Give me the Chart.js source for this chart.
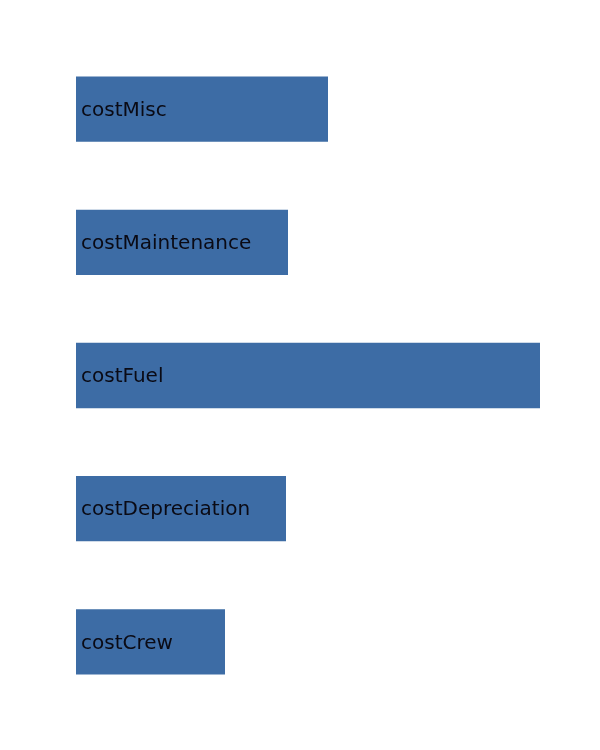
<!DOCTYPE html>
<html>
<head>
<meta charset="utf-8">
<script src="https://cdn.jsdelivr.net/npm/chart.js@4/dist/chart.umd.min.js"></script>
<style>
  html, body { margin: 0; padding: 0; background: #fff; }
  #wrap { width: 600px; height: 750px; }
</style>
</head>
<body>
<div id="wrap"><canvas id="cost-chart"></canvas></div>
<script>
const CATEGORIES = ['costMisc', 'costMaintenance', 'costFuel', 'costDepreciation', 'costCrew']
const VALUES = [252, 212, 464, 210, 149]
const BAR_COLOR = '#3d6ca5'

// draws each category name inside its bar
const insideLabels = {
  id: 'insideLabels',
  afterDatasetsDraw(chart) {
    const ctx = chart.ctx
    const meta = chart.getDatasetMeta(0)
    ctx.save()
    ctx.font = '20px "DejaVu Sans"'
    ctx.fillStyle = '#0a0a14'
    ctx.textAlign = 'left'
    ctx.textBaseline = 'middle'
    meta.data.forEach((bar, idx) => {
      ctx.fillText(CATEGORIES[idx], bar.base + 5, bar.y + 1.5)
    })
    ctx.restore()
  },
}

new Chart(document.getElementById('cost-chart').getContext('2d'), {
  type: 'bar',
  data: {
    labels: CATEGORIES,
    datasets: [
      {
        data: VALUES,
        backgroundColor: BAR_COLOR,
        borderWidth: 0,
        barPercentage: 0.49,
        categoryPercentage: 1,
      },
    ],
  },
  options: {
    indexAxis: 'y',
    responsive: true,
    maintainAspectRatio: false,
    animation: false,
    layout: {
      padding: { left: 76, right: 60, top: 42.5, bottom: 41.5 },
    },
    scales: {
      x: { display: false, min: 0, max: Math.max(...VALUES) },
      y: { display: false },
    },
    plugins: {
      legend: { display: false },
      tooltip: { enabled: false },
    },
  },
  plugins: [insideLabels],
})
</script>
</body>
</html>
